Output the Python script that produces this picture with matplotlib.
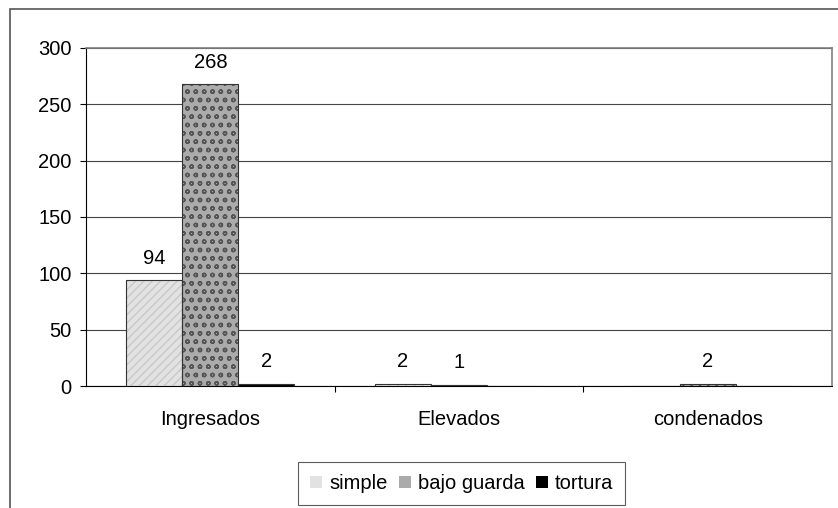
import matplotlib
matplotlib.use("Agg")
import matplotlib.pyplot as plt
from matplotlib.patches import Rectangle, Patch
import numpy as np

plt.rcParams['font.family'] = ['Liberation Sans', 'DejaVu Sans']

categories = ["Ingresados", "Elevados", "condenados"]
series_names = ["simple", "bajo guarda", "tortura"]
simple = [94, 2, 0]
bajo_guarda = [268, 1, 2]
tortura = [2, 0, 0]
y_ticks = [0, 50, 100, 150, 200, 250, 300]

series = [simple, bajo_guarda, tortura]
faces = ["#e2e2e2", "#ababab", "#000000"]
hatches = ["////", "oo", None]
hatch_cols = ["#c8c8c8", "#555555", "#000000"]
FS = 14.5

fig = plt.figure(figsize=(8.38, 5.08), dpi=100)
ax = fig.add_axes([86/838, 1-386/508, (832-86)/838, (386-48)/508])

x = np.arange(len(categories))
w = 0.225
for i, (vals, name) in enumerate(zip(series, series_names)):
    pos = x + (i - 1) * w
    ax.bar(pos, vals, w, color=faces[i], hatch=hatches[i], edgecolor=hatch_cols[i],
           linewidth=0, zorder=3)
    ax.bar(pos, vals, w, fill=False, edgecolor="#333333", linewidth=0.8, zorder=4)
    for p, v in zip(pos, vals):
        if v:
            ax.annotate(str(v), (p, v), xytext=(0, 9), textcoords="offset points",
                        ha="center", va="bottom", fontsize=FS, color="black")

ax.set_xlim(-0.5, 2.5)
ax.set_ylim(0, 300)
ax.set_yticks(y_ticks)
ax.set_yticklabels([str(t) for t in y_ticks], fontsize=FS)
ax.yaxis.grid(True, color="#444444", linewidth=0.8, zorder=0)
ax.set_axisbelow(True)
ax.tick_params(axis="y", direction="out", length=4.5, width=0.8, pad=6, color="black")
ax.set_xticks(x)
ax.set_xticklabels(categories, fontsize=FS)
ax.set_xticks([0.5, 1.5], minor=True)
ax.tick_params(axis="x", which="major", length=0, pad=17)
ax.tick_params(axis="x", which="minor", direction="out", length=4.5, width=0.8)

for s in ["left", "bottom"]:
    ax.spines[s].set_color("black")
    ax.spines[s].set_linewidth(0.8)
for s in ["right", "top"]:
    ax.spines[s].set_color("#808080")
    ax.spines[s].set_linewidth(1.2)

handles = [Patch(facecolor=faces[i], edgecolor="none", hatch=hatches[i]) for i in range(3)]
leg = fig.legend(handles, series_names, loc="center", ncol=3,
                 bbox_to_anchor=(461.5/838, 1-483.5/508), fontsize=FS,
                 frameon=True, fancybox=False, edgecolor="#333333",
                 handlelength=0.6, handleheight=0.6, handletextpad=0.35,
                 columnspacing=0.55, borderpad=0.6)
leg.get_frame().set_linewidth(0.8)

fig.add_artist(Rectangle((10/838, -0.1), 2, 1-9/508+0.1, transform=fig.transFigure,
                         fill=False, edgecolor="#555555", linewidth=1.2))

fig.savefig("out.png", dpi=100)
